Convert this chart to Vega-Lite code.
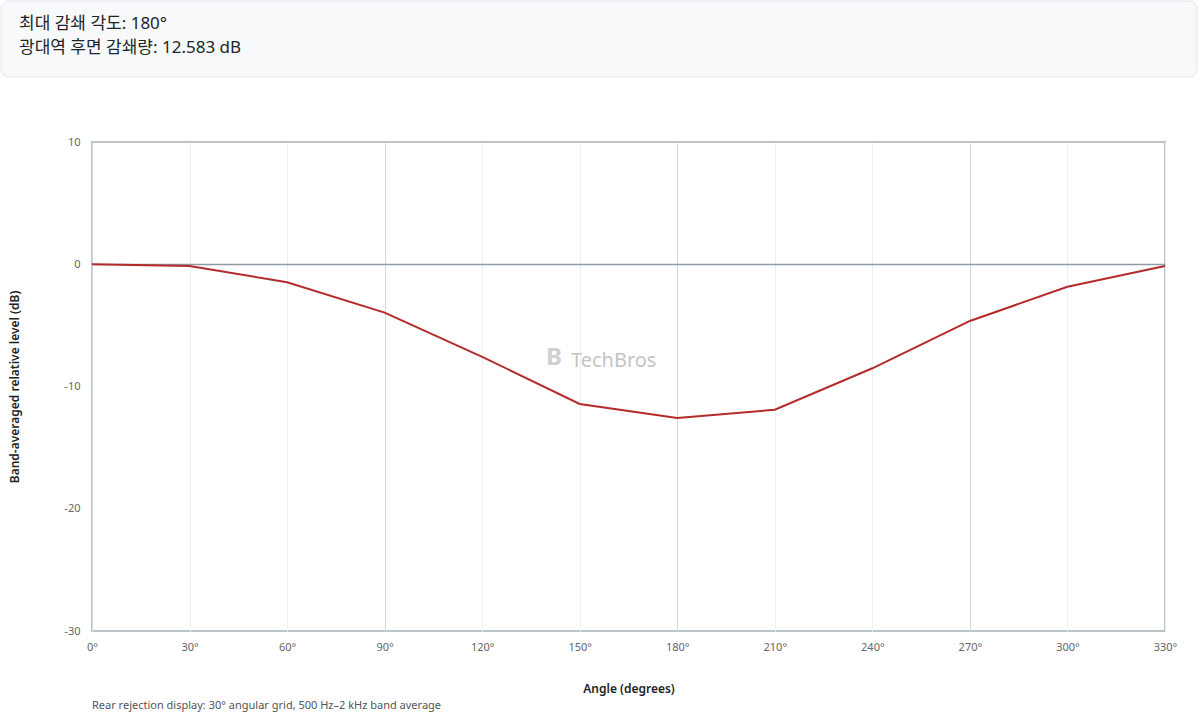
{
  "$schema": "https://vega.github.io/schema/vega-lite/v6.json",
  "autosize": {"type": "none"},
  "padding": {"left": 92, "top": 142, "right": 35, "bottom": 85},
  "width": 1073,
  "height": 489,
  "background": "white",
  "config": {
    "font": "Noto Sans",
    "axis": {"labelFont": "Noto Sans", "titleFont": "Noto Sans"}
  },
  "view": {"stroke": "#bcc4ca", "strokeWidth": 2},
  "title": {
    "text": "Rear rejection display: 30° angular grid, 500 Hz–2 kHz band average",
    "orient": "bottom",
    "anchor": "start",
    "frame": "group",
    "fontSize": 11,
    "fontWeight": "normal",
    "color": "#555555",
    "offset": 6
  },
  "layer": [
    {
      "data": {
        "values": [
          {"angle": 0, "level": 0},
          {"angle": 30, "level": -0.14},
          {"angle": 60, "level": -1.47},
          {"angle": 90, "level": -3.96},
          {"angle": 120, "level": -7.57},
          {"angle": 150, "level": -11.43},
          {"angle": 180, "level": -12.583},
          {"angle": 210, "level": -11.9},
          {"angle": 240, "level": -8.51},
          {"angle": 270, "level": -4.64},
          {"angle": 300, "level": -1.84},
          {"angle": 330, "level": -0.14}
        ]
      },
      "mark": {"type": "line", "color": "#b52a2a", "strokeWidth": 2},
      "encoding": {
        "x": {
          "field": "angle",
          "type": "quantitative",
          "scale": {"domain": [0, 330], "nice": false, "zero": false},
          "axis": {
            "title": "Angle (degrees)",
            "values": [0, 30, 60, 90, 120, 150, 180, 210, 240, 270, 300, 330],
            "labelExpr": "datum.value + '°'",
            "labelFontSize": 11,
            "labelColor": "#666666",
            "labelPadding": 10,
            "ticks": false,
            "domain": false,
            "labelFlush": false,
            "gridColor": {"condition": {"test": "datum.value % 90 === 0", "value": "#d3d8dd"}, "value": "#edf0f2"},
            "titleFontSize": 12,
            "titleFontWeight": 600,
            "titleColor": "#222222",
            "titlePadding": 31
          }
        },
        "y": {
          "field": "level",
          "type": "quantitative",
          "scale": {"domain": [-30, 10], "nice": false},
          "axis": {
            "title": "Band-averaged relative level (dB)",
            "values": [-30, -25, -20, -15, -10, -5, 0, 5, 10],
            "labelExpr": "datum.value % 10 === 0 ? '' + datum.value : ''",
            "labelFontSize": 11,
            "labelColor": "#666666",
            "labelPadding": 12,
            "ticks": false,
            "domain": false,
            "gridColor": {"condition": {"test": "datum.value === 0", "value": "#8f9aa5"}, "value": {"expr": "datum.value % 10 === 0 ? '#d3d8dd' : '#eef0f2'"}},
            "gridWidth": {"condition": {"test": "datum.value === 0", "value": 1.5}, "value": 1},
            "titleFontSize": 12,
            "titleFontWeight": 600,
            "titleColor": "#222222",
            "titlePadding": 42
          }
        }
      }
    },
    {
      "data": {"values": [{"box": "header"}]},
      "mark": {"type": "rect", "fill": "#f8f9fa", "stroke": "#e2e5e9", "strokeWidth": 1, "cornerRadius": 8, "clip": false},
      "encoding": {
        "x": {"datum": -27.99},
        "x2": {"datum": 339.85},
        "y": {"datum": 21.53},
        "y2": {"datum": 15.32}
      }
    },
    {
      "data": {"values": [{"label": "최대 감쇄 각도: 180°"}]},
      "mark": {"type": "text", "align": "left", "baseline": "middle", "fontSize": 17, "color": "#212529", "font": "Noto Sans, Noto Sans CJK KR", "clip": false},
      "encoding": {
        "x": {"datum": -22.45},
        "y": {"datum": 19.69},
        "text": {"field": "label"}
      }
    },
    {
      "data": {"values": [{"label": "광대역 후면 감쇄량: 12.583 dB"}]},
      "mark": {"type": "text", "align": "left", "baseline": "middle", "fontSize": 17, "color": "#212529", "font": "Noto Sans, Noto Sans CJK KR", "clip": false},
      "encoding": {
        "x": {"datum": -22.45},
        "y": {"datum": 17.65},
        "text": {"field": "label"}
      }
    },
    {
      "data": {"values": [{"label": "B"}]},
      "mark": {"type": "text", "fontSize": 24, "fontWeight": "bold", "color": "#d0d0d0", "align": "center", "baseline": "middle"},
      "encoding": {
        "x": {"datum": 142.1},
        "y": {"datum": -7.7},
        "text": {"field": "label"}
      }
    },
    {
      "data": {"values": [{"label": "TechBros"}]},
      "mark": {"type": "text", "fontSize": 20, "fontWeight": "normal", "color": "#c4c4c4", "align": "left", "baseline": "middle"},
      "encoding": {
        "x": {"datum": 147.3},
        "y": {"datum": -7.91},
        "text": {"field": "label"}
      }
    }
  ]
}
